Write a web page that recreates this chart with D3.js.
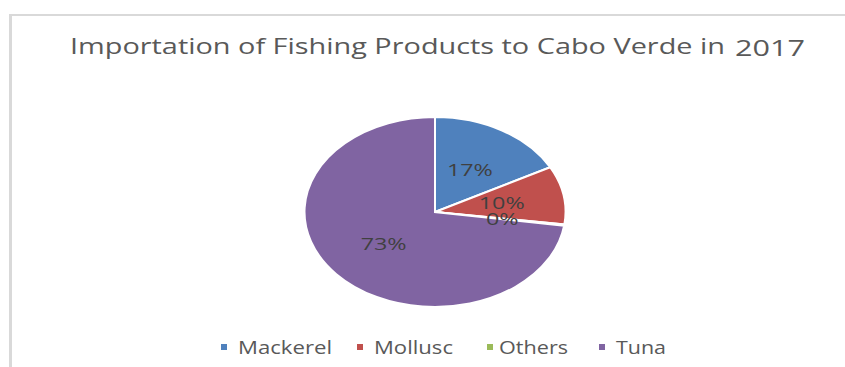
<!doctype html>
<html>
<head>
<meta charset="utf-8">
<title>Importation of Fishing Products to Cabo Verde in 2017</title>
<script src="https://cdnjs.cloudflare.com/ajax/libs/d3/7.8.5/d3.min.js"></script>
<style>
  body { margin: 0; background: #fff; }
  svg { display: block; font-family: "Open Sans", "Liberation Sans", sans-serif; }
</style>
</head>
<body>
<div id="chart"></div>
<script>
// data
const categories = ["Mackerel", "Mollusc", "Others", "Tuna"];
const shares = [17.2, 9.9, 0.2, 72.7];
const labels = ["17%", "10%", "0%", "73%"];
const colors = ["#4f81bd", "#c0504d", "#9bbb59", "#8064a2"];

const width = 845, height = 367;
const svg = d3.select("#chart").append("svg")
  .attr("width", width)
  .attr("height", height);

// frame (only top and left edge show)
svg.append("line").attr("x1", 9).attr("x2", width).attr("y1", 15).attr("y2", 15)
  .attr("stroke", "#d9d9d9").attr("stroke-width", 2);
svg.append("line").attr("x1", 10.5).attr("x2", 10.5).attr("y1", 14).attr("y2", height)
  .attr("stroke", "#d9d9d9").attr("stroke-width", 3);

// title
const title = svg.append("text").attr("fill", "#595959");
title.append("tspan").attr("x", 70).attr("y", 54).attr("font-size", 22)
  .attr("textLength", 655).attr("lengthAdjust", "spacingAndGlyphs")
  .text("Importation of Fishing Products to Cabo Verde in");
title.append("tspan").attr("x", 735).attr("y", 56).attr("font-size", 22)
  .attr("textLength", 70).attr("lengthAdjust", "spacingAndGlyphs")
  .text("2017");

// pie, squashed into an ellipse like the original
const ry = 95, rx = 130.5;
const pie = d3.pie().sort(null)(shares);
const arc = d3.arc().innerRadius(0).outerRadius(ry);
const labelArc = d3.arc().innerRadius(ry * 0.52).outerRadius(ry * 0.52);

const g = svg.append("g")
  .attr("transform", `translate(435,212) scale(${rx / ry},1)`);

g.selectAll("path")
  .data(pie)
  .join("path")
  .attr("d", arc)
  .attr("fill", (d, i) => colors[i])
  .attr("stroke", "#fff")
  .attr("stroke-width", 2)
  .attr("vector-effect", "non-scaling-stroke");

g.selectAll("text")
  .data(pie)
  .join("text")
  .attr("transform", d => `translate(${labelArc.centroid(d)})`)
  .attr("text-anchor", "middle")
  .attr("dy", "0.36em")
  .attr("font-size", 17)
  .attr("fill", "#404040")
  .text((d, i) => labels[i]);

// legend
const legendX = [221, 357, 487, 599];
const legendW = [94, 79, 69, 50];
const legend = svg.selectAll("g.legend")
  .data(categories)
  .join("g")
  .attr("class", "legend")
  .attr("transform", (d, i) => `translate(${legendX[i]},347)`);

legend.append("rect")
  .attr("x", 0).attr("y", -3)
  .attr("width", 6).attr("height", 6)
  .attr("fill", (d, i) => colors[i]);

legend.append("text")
  .attr("x", (d, i) => i === 2 ? 12 : 17)
  .attr("y", 7)
  .attr("font-size", 18)
  .attr("fill", "#595959")
  .attr("textLength", (d, i) => legendW[i])
  .attr("lengthAdjust", "spacingAndGlyphs")
  .text(d => d);
</script>
</body>
</html>
